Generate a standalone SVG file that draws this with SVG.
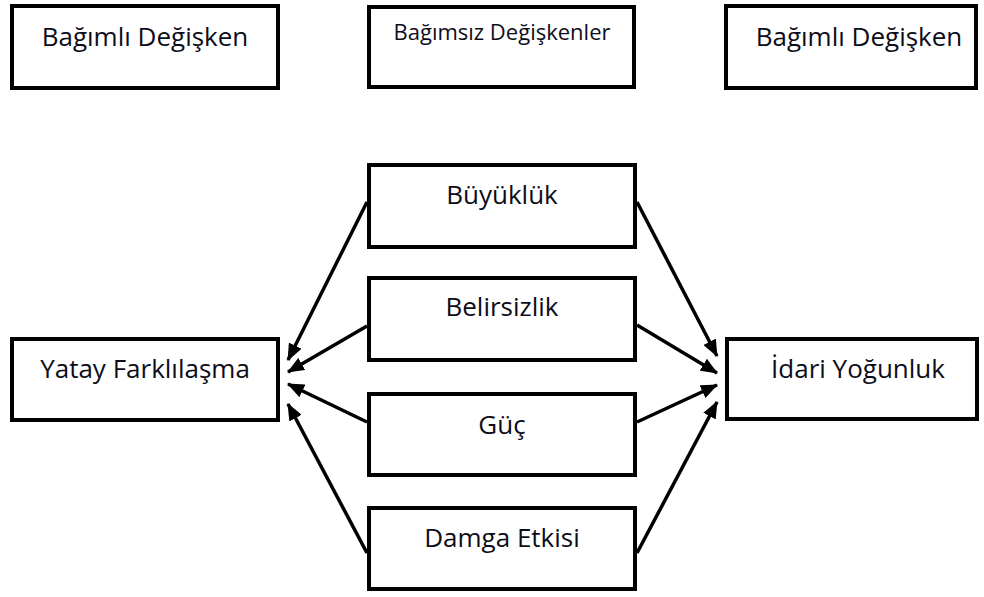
<svg xmlns="http://www.w3.org/2000/svg" width="984" height="597" viewBox="0 0 984 597">
<style>
.box{fill:#fff;stroke:#000;stroke-width:4}
.t{font-family:"Open Sans","Liberation Sans",sans-serif;font-size:26px;fill:#0d0d1a;text-anchor:middle}
.ts{font-size:22px}
.c{stroke:#000;stroke-width:3.5;fill:none;marker-end:url(#ah)}
</style>
<defs>
<marker id="ah" markerUnits="userSpaceOnUse" markerWidth="18" markerHeight="14" refX="16" refY="7" orient="auto">
<path d="M0,0 L17,7 L0,14 z" fill="#000"/>
</marker>
</defs>
<rect width="984" height="597" fill="#fff"/>
<g id="dep-left-header"><rect class="box" x="12" y="6" width="266" height="82"/><text class="t" x="145" y="46">Bağımlı Değişken</text></g>
<g id="indep-header"><rect class="box" x="369" y="7" width="265" height="80"/><text class="t ts" x="502" y="40">Bağımsız Değişkenler</text></g>
<g id="dep-right-header"><rect class="box" x="726" y="6" width="250" height="82"/><text class="t" x="859" y="46">Bağımlı Değişken</text></g>
<g id="yatay"><rect class="box" x="12" y="339" width="266" height="81"/><text class="t" x="145" y="378">Yatay Farklılaşma</text></g>
<g id="idari"><rect class="box" x="727" y="339" width="250" height="80"/><text class="t" x="858" y="378">İdari Yoğunluk</text></g>
<g id="buyukluk"><rect class="box" x="369" y="165" width="266" height="82"/><text class="t" x="502" y="204">Büyüklük</text></g>
<g id="belirsizlik"><rect class="box" x="369" y="278" width="266" height="82"/><text class="t" x="502" y="316">Belirsizlik</text></g>
<g id="guc"><rect class="box" x="369" y="394" width="266" height="81"/><text class="t" x="502" y="434">Güç</text></g>
<g id="damga"><rect class="box" x="369" y="508" width="266" height="81"/><text class="t" x="502" y="547">Damga Etkisi</text></g>
<g id="connectors">
<line class="c" x1="367" y1="202" x2="288" y2="360"/>
<line class="c" x1="367" y1="326" x2="288" y2="372"/>
<line class="c" x1="367" y1="422" x2="288" y2="384"/>
<line class="c" x1="367" y1="553" x2="288" y2="404"/>
<line class="c" x1="637" y1="202" x2="717" y2="356"/>
<line class="c" x1="637" y1="325" x2="717" y2="373"/>
<line class="c" x1="637" y1="422" x2="717" y2="385"/>
<line class="c" x1="637" y1="553" x2="717" y2="402"/>
</g>
</svg>
